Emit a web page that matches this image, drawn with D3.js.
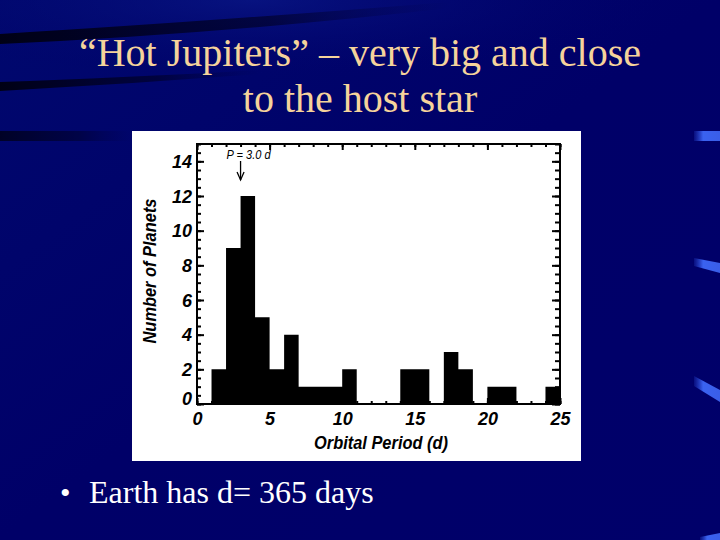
<!DOCTYPE html>
<html>
<head>
<meta charset="utf-8">
<script src="https://cdn.jsdelivr.net/npm/d3@7/dist/d3.min.js"></script>
<style>
  html, body { margin: 0; padding: 0; background: #00006a; }
  svg { display: block; }
</style>
</head>
<body>
<svg id="chart" width="720" height="540"></svg>
<script>
// ---- data ----
const binStarts = [0,1,2,3,4,5,6,7,8,9,10,11,12,13,14,15,16,17,18,19,20,21,22,23,24];
const counts    = [0,2,9,12,5,2,4,1,1,1,2,0,0,0,2,2,0,3,2,0,1,1,0,0,1];
const binWidth = 1;
const xTickValues = [0,5,10,15,20,25];
const yTickValues = [0,2,4,6,8,10,12,14];
const titleLines = ["\u201CHot Jupiters\u201D \u2013 very big and close", "to the host star"];
const bulletText = "Earth has d= 365 days";
const annotation = {period: 3.0, label: "P = 3.0 d"};

const svg = d3.select("#chart");
const defs = svg.append("defs");

// ---- slide background ----
const bg = defs.append("linearGradient").attr("id","bg").attr("x1","0").attr("y1","0").attr("x2","1").attr("y2","1");
bg.append("stop").attr("offset","0").attr("stop-color","#00086e");
bg.append("stop").attr("offset","0.5").attr("stop-color","#000068");
bg.append("stop").attr("offset","1").attr("stop-color","#00006a");
svg.append("rect").attr("width",720).attr("height",540).attr("fill","url(#bg)");

const lite = defs.append("radialGradient").attr("id","lite").attr("cx","0.35").attr("cy","0.0").attr("r","0.6");
lite.append("stop").attr("offset","0").attr("stop-color","#0a1888").attr("stop-opacity",0.7);
lite.append("stop").attr("offset","1").attr("stop-color","#000068").attr("stop-opacity",0);
svg.append("rect").attr("width",720).attr("height",140).attr("fill","url(#lite)");

const darkFade = defs.append("linearGradient").attr("id","darkFade").attr("x1","0").attr("x2","1");
darkFade.append("stop").attr("offset","0").attr("stop-color","#000010").attr("stop-opacity",0.95);
darkFade.append("stop").attr("offset","0.6").attr("stop-color","#000020").attr("stop-opacity",0.6);
darkFade.append("stop").attr("offset","1").attr("stop-color","#000040").attr("stop-opacity",0);

svg.append("path").attr("d","M0,34 Q200,22 450,2 L450,8 Q220,34 0,44 Z").attr("fill","url(#darkFade)");
svg.append("path").attr("d","M0,82 Q120,78 260,70 L260,74 Q130,84 0,91 Z").attr("fill","url(#darkFade)");
svg.append("path").attr("d","M0,131 L132,131 L132,141 L0,141 Z").attr("fill","url(#darkFade)").attr("opacity",0.8);

const streak = defs.append("linearGradient").attr("id","streak").attr("x1","0").attr("x2","1");
streak.append("stop").attr("offset","0").attr("stop-color","#2a48d8").attr("stop-opacity",0.2);
streak.append("stop").attr("offset","0.35").attr("stop-color","#3a62f0");
streak.append("stop").attr("offset","1").attr("stop-color","#3a5ee8");
svg.append("path").attr("d","M694,131 L720,131 L720,141 L694,141 Z").attr("fill","url(#streak)");
svg.append("path").attr("d","M694,258 L720,263 L720,273 L694,266 Z").attr("fill","url(#streak)");
svg.append("path").attr("d","M694,376 L720,390 L720,402 L694,386 Z").attr("fill","url(#streak)");
svg.append("path").attr("d","M700,537 L720,533 L720,540 L700,540 Z").attr("fill","url(#streak)");

// ---- titles ----
svg.selectAll("text.title").data(titleLines).join("text")
  .attr("class","title")
  .attr("x",360).attr("y",(d,i)=> i===0 ? 66 : 112)
  .attr("text-anchor","middle")
  .attr("font-family","'Liberation Serif','Times New Roman',serif")
  .attr("font-size",40)
  .attr("fill","#f5d39b")
  .text(d=>d);

svg.append("text").attr("x",60).attr("y",503)
  .attr("font-family","'Liberation Serif','Times New Roman',serif")
  .attr("font-size",30).attr("fill","#ffffff").text("\u2022");
svg.append("text").attr("x",89).attr("y",503)
  .attr("font-family","'Liberation Serif','Times New Roman',serif")
  .attr("font-size",32).attr("fill","#ffffff").text(bulletText);

// ---- chart panel ----
svg.append("rect").attr("x",132).attr("y",131).attr("width",449).attr("height",330).attr("fill","#ffffff");

const x = d3.scaleLinear().domain([0,25]).range([197,560]);
const y = d3.scaleLinear().domain([0,15]).range([404,144]);
const axFont = "'Liberation Sans',Arial,Helvetica,sans-serif";

// histogram as one stepped area (no seams between bars)
const histPts = binStarts.map((s,i)=>({s, c: counts[i]}));
histPts.push({s: binStarts[binStarts.length-1] + binWidth, c: counts[counts.length-1]});
const area = d3.area().curve(d3.curveStepAfter)
  .x(d=>x(d.s)).y0(y(0)).y1(d=>y(d.c));
svg.append("path").datum(histPts).attr("d",area).attr("fill","#000");

// axes
function styleAxis(g){
  g.select(".domain").remove();
  g.selectAll(".tick line").attr("stroke","#000").attr("stroke-width",2);
  g.selectAll(".tick text").attr("font-family",axFont).attr("font-weight","bold")
    .attr("font-style","italic").attr("font-size",18).attr("fill","#000");
}
const minorY = d3.range(0,15.01,0.5);
const minorX = d3.range(0,25.01,1);

svg.append("g").attr("transform",`translate(${x(0)},0)`)
  .call(d3.axisLeft(y).tickValues(minorY).tickFormat("").tickSizeInner(-4).tickSizeOuter(0)).call(styleAxis);
svg.append("g").attr("transform",`translate(${x(0)},0)`)
  .call(d3.axisLeft(y).tickValues(yTickValues).tickSizeInner(-7).tickSizeOuter(0).tickPadding(5)).call(styleAxis)
  .call(g=>g.selectAll(".tick text").attr("dy",d=> d===0 ? "0.0em" : "0.35em"));
svg.append("g").attr("transform",`translate(${x(25)},0)`)
  .call(d3.axisRight(y).tickValues(minorY).tickFormat("").tickSizeInner(-5).tickSizeOuter(0)).call(styleAxis);
svg.append("g").attr("transform",`translate(${x(25)},0)`)
  .call(d3.axisRight(y).tickValues(yTickValues).tickFormat("").tickSizeInner(-8).tickSizeOuter(0)).call(styleAxis);

svg.append("g").attr("transform",`translate(0,${y(0)})`)
  .call(d3.axisBottom(x).tickValues(minorX).tickFormat("").tickSizeInner(-3).tickSizeOuter(0)).call(styleAxis);
svg.append("g").attr("transform",`translate(0,${y(0)})`)
  .call(d3.axisBottom(x).tickValues(xTickValues).tickSizeInner(-6).tickSizeOuter(0).tickPadding(8)).call(styleAxis);
svg.append("g").attr("transform",`translate(0,${y(15)})`)
  .call(d3.axisTop(x).tickValues(minorX).tickFormat("").tickSizeInner(-3).tickSizeOuter(0)).call(styleAxis);
svg.append("g").attr("transform",`translate(0,${y(15)})`)
  .call(d3.axisTop(x).tickValues(xTickValues).tickFormat("").tickSizeInner(-6).tickSizeOuter(0)).call(styleAxis);

// frame
svg.append("rect").attr("x",x(0)).attr("y",y(15)).attr("width",x(25)-x(0)).attr("height",y(0)-y(15))
  .attr("fill","none").attr("stroke","#000").attr("stroke-width",2);

// axis titles
svg.append("text").attr("x",381).attr("y",449).attr("text-anchor","middle")
  .attr("font-family",axFont).attr("font-weight","bold").attr("font-style","italic")
  .attr("font-size",18).attr("textLength",134).attr("lengthAdjust","spacingAndGlyphs")
  .text("Orbital Period (d)");
svg.append("text").attr("transform","translate(156,271) rotate(-90)").attr("text-anchor","middle")
  .attr("font-family",axFont).attr("font-weight","bold").attr("font-style","italic")
  .attr("font-size",19).attr("textLength",145).attr("lengthAdjust","spacingAndGlyphs")
  .text("Number of Planets");

// annotation
const ax = x(annotation.period);
svg.append("text").attr("x",ax-14).attr("y",159)
  .attr("font-family",axFont).attr("font-style","italic").attr("font-size",12)
  .attr("textLength",44).attr("lengthAdjust","spacingAndGlyphs")
  .text(annotation.label);
svg.append("line").attr("x1",ax).attr("x2",ax).attr("y1",161).attr("y2",180).attr("stroke","#000").attr("stroke-width",1.3);
svg.append("path").attr("d",`M${ax-3.5},172 L${ax},180 L${ax+3.5},172`).attr("fill","none").attr("stroke","#000").attr("stroke-width",1.3);
</script>
</body>
</html>
